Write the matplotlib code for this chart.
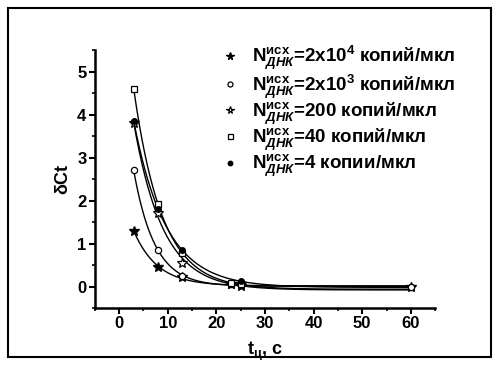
import numpy as np
import matplotlib
matplotlib.use("Agg")
import matplotlib.pyplot as plt
from matplotlib.patches import Rectangle

plt.rcParams['font.family'] = ['Liberation Sans', 'DejaVu Sans']
plt.rcParams['font.weight'] = 'bold'
plt.rcParams['mathtext.fontset'] = 'custom'
plt.rcParams['mathtext.rm'] = 'Liberation Sans:bold'
plt.rcParams['mathtext.bf'] = 'Liberation Sans:bold'
plt.rcParams['mathtext.it'] = 'Liberation Sans:bold:italic'

# Data
t_star_f = [3, 8, 13, 23, 25, 60]
y_star_f = [1.3, 0.45, 0.22, 0.05, 0.02, 0.0]
t_circ_o = [3, 8, 13, 23, 60]
y_circ_o = [2.7, 0.85, 0.25, 0.05, 0.0]
t_star_o = [3, 8, 13, 23, 25]
y_star_o = [3.8, 1.7, 0.55, 0.07, 0.05]
t_sq = [3, 8, 13, 23, 25]
y_sq = [4.6, 1.92, 0.78, 0.08, 0.05]
t_circ_f = [3, 8, 13, 25]
y_circ_f = [3.85, 1.8, 0.85, 0.12]

labels = [
    r"N$^{\mathrm{исх}}_{\mathit{ДНК}}$=2x10$^{4}$ копий/мкл",
    r"N$^{\mathrm{исх}}_{\mathit{ДНК}}$=2x10$^{3}$ копий/мкл",
    r"N$^{\mathrm{исх}}_{\mathit{ДНК}}$=200 копий/мкл",
    r"N$^{\mathrm{исх}}_{\mathit{ДНК}}$=40 копий/мкл",
    r"N$^{\mathrm{исх}}_{\mathit{ДНК}}$=4 копии/мкл",
]

def fit_exp(t, y):
    t = np.asarray(t, float); y = np.asarray(y, float)
    best = None
    for k in np.linspace(0.05, 1.0, 400):
        M = np.column_stack([np.exp(-k * t), np.ones_like(t)])
        coef, res, *_ = np.linalg.lstsq(M, y, rcond=None)
        r = np.sum((M @ coef - y) ** 2)
        if best is None or r < best[0]:
            best = (r, k, coef)
    _, k, (A, c) = best
    tt = np.linspace(t.min(), 60, 300)
    return tt, A * np.exp(-k * tt) + c

fig = plt.figure(figsize=(4.99, 3.65), dpi=100)
ax = fig.add_axes([0.19, 0.156, 0.682, 0.707])

series = [
    (t_star_f, y_star_f, dict(marker='*', mfc='black', mec='black', ms=7)),
    (t_circ_o, y_circ_o, dict(marker='o', mfc='white', mec='black', ms=4.5, mew=0.9)),
    (t_star_o, y_star_o, dict(marker='*', mfc='white', mec='black', ms=7, mew=0.9)),
    (t_sq, y_sq, dict(marker='s', mfc='white', mec='black', ms=4.5, mew=0.9)),
    (t_circ_f, y_circ_f, dict(marker='o', mfc='black', mec='black', ms=4)),
]

for (t, y, mk), lab in zip(series, labels):
    tt, yy = fit_exp(t, y)
    ax.plot(tt, yy, color='black', lw=1.0, zorder=2)
    ax.plot(t, y, ls='none', label=lab, zorder=3, **mk)

ax.set_xlim(-5, 65)
ax.set_ylim(-0.5, 5.5)
ax.set_xticks([0, 10, 20, 30, 40, 50, 60])
ax.set_xticks(np.arange(-5, 66, 5), minor=True)
ax.set_yticks([0, 1, 2, 3, 4, 5])
ax.set_yticks(np.arange(-0.5, 5.6, 0.5), minor=True)
ax.spines['top'].set_visible(False)
ax.spines['right'].set_visible(False)
for s in ('left', 'bottom'):
    ax.spines[s].set_linewidth(1.8)
ax.tick_params(which='major', direction='out', length=4, width=1.5, labelsize=12, pad=2)
ax.tick_params(which='minor', direction='out', length=2.5, width=1.2)
for lab in ax.get_xticklabels() + ax.get_yticklabels():
    lab.set_fontweight('bold')

ax.set_ylabel('δCt', fontsize=13, fontweight='bold', labelpad=4)
ax.set_xlabel(r't$_{\mathrm{ц}}$, c', fontsize=13, fontweight='bold', labelpad=6)

leg = fig.legend(*ax.get_legend_handles_labels(), loc='upper left',
                 bbox_to_anchor=(222 / 499, 1 - 44 / 365), frameon=False,
                 prop={'size': 13.5, 'weight': 'bold'}, handlelength=0.8,
                 handletextpad=0.8, labelspacing=0.0, borderaxespad=0,
                 borderpad=0, markerscale=0.8)

fig.patches.append(Rectangle((0.016, 0.022), 0.968, 0.956, transform=fig.transFigure,
                             fill=False, edgecolor='black', lw=1.5))

fig.savefig('out.png', dpi=100)
